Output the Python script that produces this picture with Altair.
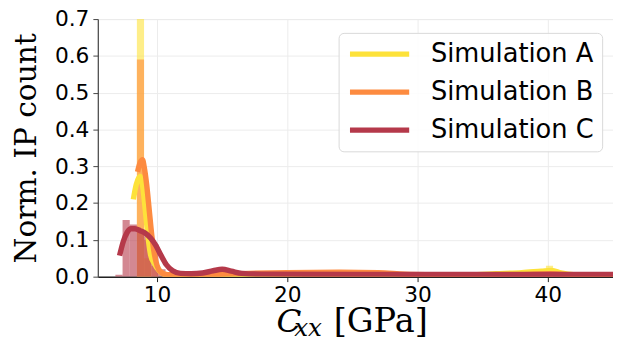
import altair as alt
import pandas as pd

series = ["Simulation A", "Simulation B", "Simulation C"]
colors = ["#fde23a", "#fd8b40", "#b5394a"]

# histogram bins: (series, start, end, value)
hist_series = ["Simulation A", "Simulation A", "Simulation A",
               "Simulation B", "Simulation B", "Simulation B", "Simulation B",
               "Simulation C", "Simulation C", "Simulation C", "Simulation C", "Simulation C",
               "Simulation C", "Simulation C", "Simulation C", "Simulation C"]
hist_start = [8.45, 9.0, 39.85,
              8.45, 9.0, 9.55, 39.8,
              6.8, 7.35, 7.9, 8.45, 9.0, 9.55, 10.1, 10.65, 14.75]
hist_end = [9.0, 9.55, 40.4,
            9.0, 9.55, 10.1, 40.45,
            7.35, 7.9, 8.45, 9.0, 9.55, 10.1, 10.65, 11.2, 15.3]
hist_value = [0.70, 0.05, 0.03,
              0.59, 0.10, 0.03, 0.018,
              0.005, 0.154, 0.142, 0.125, 0.11, 0.088, 0.02, 0.008, 0.024]

# KDE curves
a_x = [8.18, 8.4, 8.7, 8.9, 9.1, 9.3, 9.5, 9.8, 10.2, 10.6, 11.5, 15, 20, 30, 34, 36, 38, 39.5, 40.3, 41.0, 42.0, 45]
a_y = [0.21, 0.25, 0.272, 0.245, 0.18, 0.11, 0.06, 0.035, 0.015, 0.006, 0.004, 0.004, 0.004, 0.004, 0.005, 0.008, 0.011, 0.015, 0.017, 0.01, 0.005, 0.004]
b_x = [8.5, 8.7, 8.88, 9.0, 9.2, 9.4, 9.6, 9.8, 10.0, 10.3, 10.8, 12, 14, 17, 20, 24, 27, 29, 32, 36, 38, 40.2, 42, 45]
b_y = [0.285, 0.31, 0.318, 0.30, 0.25, 0.18, 0.11, 0.06, 0.03, 0.012, 0.005, 0.005, 0.006, 0.009, 0.011, 0.012, 0.011, 0.007, 0.005, 0.004, 0.005, 0.008, 0.004, 0.003]
c_x = [7.12, 7.4, 7.7, 8.0, 8.3, 8.7, 9.1, 9.5, 9.9, 10.3, 10.7, 11.2, 11.8, 12.6, 13.5, 14.3, 15.0, 15.7, 16.5, 18, 25, 35, 45]
c_y = [0.057, 0.095, 0.12, 0.13, 0.13, 0.125, 0.118, 0.105, 0.085, 0.058, 0.033, 0.016, 0.009, 0.008, 0.01, 0.016, 0.02, 0.015, 0.009, 0.007, 0.006, 0.006, 0.006]

x_ticks = [10, 20, 30, 40]
y_ticks = [0.0, 0.1, 0.2, 0.3, 0.4, 0.5, 0.6, 0.7]

hist_df = pd.DataFrame({"series": hist_series, "x": hist_start, "x2": hist_end, "y": hist_value})
kde_df = pd.concat([
    pd.DataFrame({"series": series[0], "x": a_x, "y": a_y}),
    pd.DataFrame({"series": series[1], "x": b_x, "y": b_y}),
    pd.DataFrame({"series": series[2], "x": c_x, "y": c_y}),
], ignore_index=True)
kde_df["order"] = range(len(kde_df))

xscale = alt.Scale(domain=[5.45, 45], nice=False, zero=False)
yscale = alt.Scale(domain=[0, 0.7], nice=False)
cscale = alt.Scale(domain=series, range=colors)

xaxis = alt.Axis(values=x_ticks, title=None, labelFontSize=22, labelFont="DejaVu Sans",
                 labelColor="black", tickSize=5, labelPadding=3, tickColor="#222",
                 domainColor="#222", domainWidth=1.5, gridColor="#ececec", labelFlush=False,
                 labelOverlap=False)
yaxis = alt.Axis(values=y_ticks, format=".1f", title="Norm. IP count", titleFont="DejaVu Serif",
                 titleFontSize=30, titleFontWeight="normal", titleColor="black",
                 titleX=-63, titleY=130.5, titleAngle=270, titleBaseline="alphabetic", titleAlign="center",
                 labelFontSize=22, labelFont="DejaVu Sans", labelColor="black", tickSize=5,
                 labelPadding=4, tickColor="#444", domainColor="#444", domainWidth=1.2,
                 gridColor="#ececec", labelOverlap=False)

bars = alt.Chart(hist_df).mark_rect(opacity=0.6, clip=True).encode(
    x=alt.X("x:Q", scale=xscale, axis=xaxis),
    x2="x2:Q",
    y=alt.Y("y:Q", scale=yscale, axis=yaxis),
    y2=alt.datum(0),
    color=alt.Color("series:N", scale=cscale, legend=None),
)

lines = alt.Chart(kde_df).mark_line(strokeWidth=5.5, interpolate="monotone", clip=True, strokeCap="butt").encode(
    x=alt.X("x:Q", scale=xscale, axis=xaxis),
    y=alt.Y("y:Q", scale=yscale, axis=yaxis),
    order="order:Q",
    color=alt.Color("series:N", scale=cscale, legend=alt.Legend(
        title=None, orient="none", legendX=244, legendY=14, symbolType="M-1,0H5",
        symbolSize=400, symbolStrokeWidth=5.5, labelFontSize=26, labelFont="DejaVu Sans",
        labelColor="black", labelOffset=59, rowPadding=12.5, padding=8.5,
        strokeColor="#d8d8d8", fillColor="rgba(255,255,255,0.85)", cornerRadius=5,
        labelLimit=400)),
)

t_c = alt.Chart(pd.DataFrame({"t": ["C"]})).mark_text(
    font="DejaVu Serif", fontStyle="italic", fontSize=33, align="left", baseline="alphabetic", color="black"
).encode(text="t:N", x=alt.value(181), y=alt.value(317))
t_xx = alt.Chart(pd.DataFrame({"t": ["xx"]})).mark_text(
    font="DejaVu Serif", fontStyle="italic", fontSize=25, align="left", baseline="alphabetic", color="black"
).encode(text="t:N", x=alt.value(199), y=alt.value(321))
t_gpa = alt.Chart(pd.DataFrame({"t": ["[GPa]"]})).mark_text(
    font="DejaVu Serif", fontSize=34, align="left", baseline="alphabetic", color="black"
).encode(text="t:N", x=alt.value(239), y=alt.value(317))

chart = alt.layer(bars, lines, t_c, t_xx, t_gpa).resolve_legend(color="independent").properties(
    width=522, height=261,
    autosize=alt.AutoSizeParams(type="none"),
    padding={"left": 91, "top": 9, "right": 0, "bottom": 66},
).configure_view(stroke=None).configure(background="white").configure_axis(
    labelFontSize=22, labelFont="DejaVu Sans", labelColor="black"
)

chart.save("out.html", embed_options={"renderer": "svg", "actions": False})
